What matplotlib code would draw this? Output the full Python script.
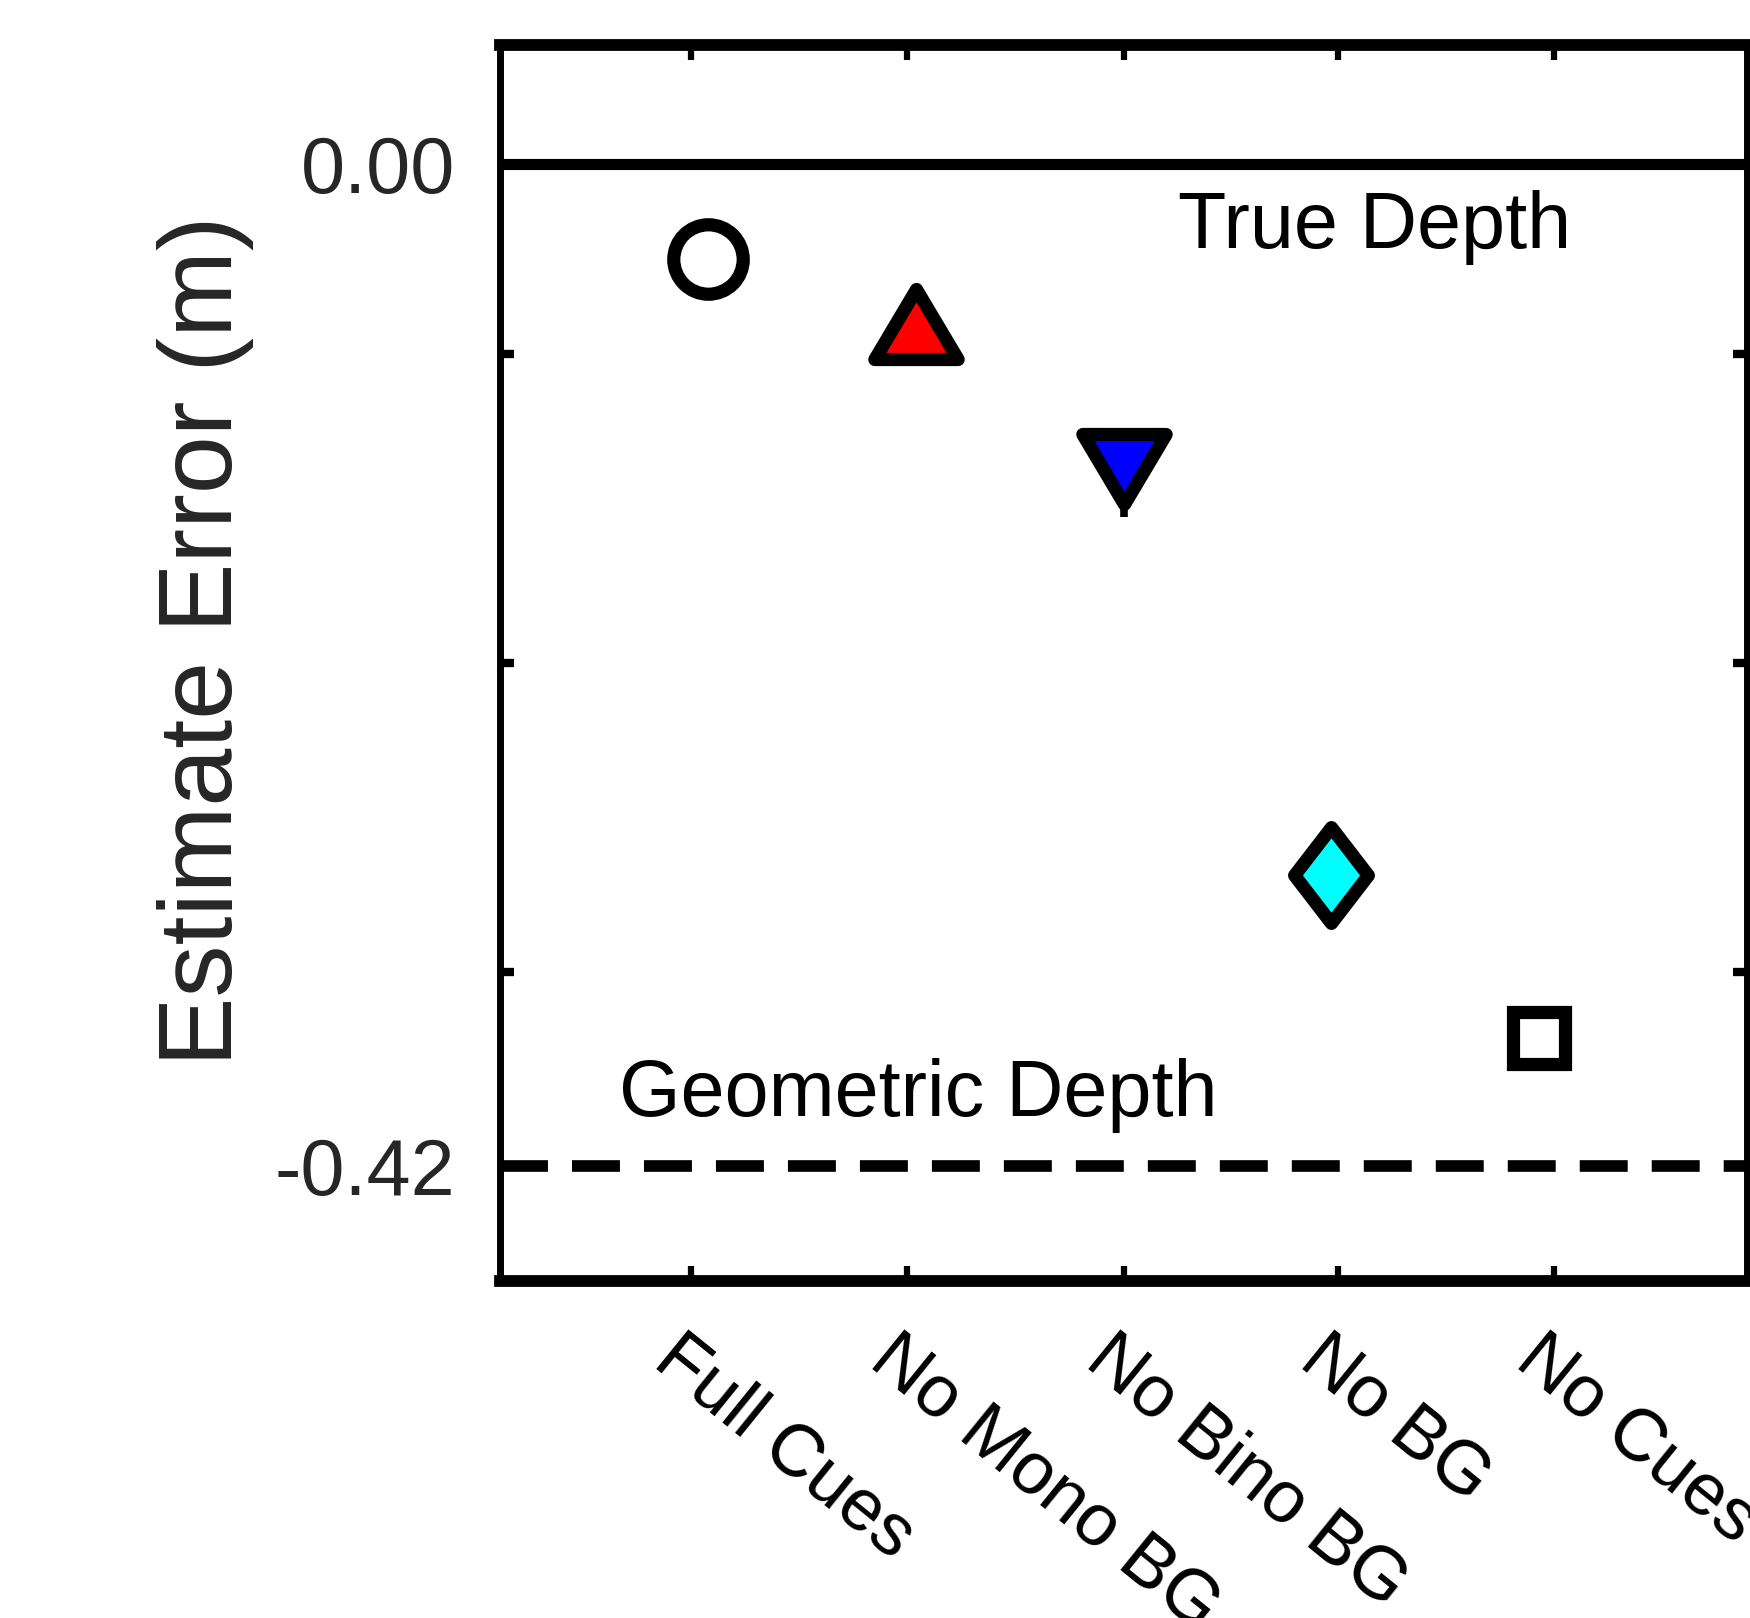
import matplotlib
matplotlib.use("Agg")
import matplotlib.pyplot as plt
import matplotlib.transforms as mtransforms
from matplotlib.markers import MarkerStyle
from matplotlib.path import Path

# condition names and mean estimate error (m)
conditions = ["Full Cues", "No Mono BG", "No Bino BG", "No BG", "No Cues"]
x_pos = [1, 2, 3, 4, 5]
estimate_error = [-0.040, -0.067, -0.128, -0.298, -0.366]
err_lower = [0.005, 0.005, 0.020, 0.005, 0.005]
err_upper = [0.005, 0.014, 0.005, 0.005, 0.005]
face_colors = ["white", "red", "blue", "cyan", "white"]
tick_pos = [0.92, 1.96, 3.00, 4.03, 5.07]
true_depth = 0.0
geometric_depth = -0.42
y_range = (-0.468, 0.050)

plt.rcParams["font.family"] = ["Liberation Sans", "DejaVu Sans"]

# marker shapes (equilateral-ish triangles, tall diamond)
tri_up = MarkerStyle(Path([(0, 1), (-1.19, -1), (1.19, -1), (0, 1)], closed=True), joinstyle="miter")
tri_down = MarkerStyle(Path([(0, -1), (-1.19, 1), (1.19, 1), (0, -1)], closed=True), joinstyle="miter")
diamond = MarkerStyle(Path([(0, 1), (0.77, 0), (0, -1), (-0.77, 0), (0, 1)], closed=True), joinstyle="miter")
circle = MarkerStyle("o", joinstyle="miter")
square = MarkerStyle("s", joinstyle="miter")
markers = [circle, tri_up, tri_down, diamond, square]
sizes = [50, 60, 60, 69, 38]

fig = plt.figure(figsize=(17.5, 16.18), dpi=100)
ax = fig.add_axes([0.2857, 0.2083, 0.7126, 0.7641])

ax.axhline(true_depth, color="black", lw=8, zorder=1)
ax.axhline(geometric_depth, color="black", lw=8.4, dashes=(4.11, 2.06),
           dash_capstyle="butt", zorder=1)

for i in range(len(conditions)):
    ax.errorbar(x_pos[i], estimate_error[i],
                yerr=[[err_lower[i]], [err_upper[i]]],
                fmt="none", ecolor="black", elinewidth=5.5, capsize=0, zorder=2)
    ax.plot(x_pos[i], estimate_error[i], ls="none", marker=markers[i],
            ms=sizes[i], mfc=face_colors[i], mec="black", mew=9.5, zorder=3)

ax.text(3.26, -0.0352, "True Depth", fontsize=57, va="baseline", ha="left")
ax.text(0.573, -0.399, "Geometric Depth", fontsize=57, va="baseline", ha="left")

ax.set_xlim(0, 6)
ax.set_ylim(*y_range)

# x ticks
ax.set_xticks(tick_pos)
ax.set_xticklabels(conditions)
ax.tick_params(axis="x", direction="in", length=11, width=4.5, top=True,
               labelsize=53, pad=30, colors="black")

# y ticks: labelled lines at 0 and -0.42, unlabelled marks at quarter points
ax.set_yticks([geometric_depth, true_depth])
ax.set_yticklabels(["-0.42", "0.00"])
ax.set_yticks([y_range[0] + k * (y_range[1] - y_range[0]) / 4 for k in range(5)], minor=True)
ax.tick_params(axis="y", which="major", length=0, labelsize=57, pad=32,
               labelcolor="#262626")
ax.tick_params(axis="y", which="minor", direction="in", length=10, width=6,
               right=True)

for lab in ax.get_xticklabels():
    lab.set_rotation(-39)
    lab.set_ha("left")
    lab.set_va("top")
    lab.set_rotation_mode("anchor")
    lab.set_transform(lab.get_transform() +
                      mtransforms.ScaledTranslation(-6 / 100, 0, fig.dpi_scale_trans))

for side in ["top", "bottom"]:
    ax.spines[side].set_linewidth(8.5)
for side in ["left", "right"]:
    ax.spines[side].set_linewidth(5)

ax.set_ylabel("Estimate Error (m)", fontsize=75, color="#262626")
ax.yaxis.set_label_coords(-0.197, 0.518)

fig.savefig("out.png", dpi=100)
